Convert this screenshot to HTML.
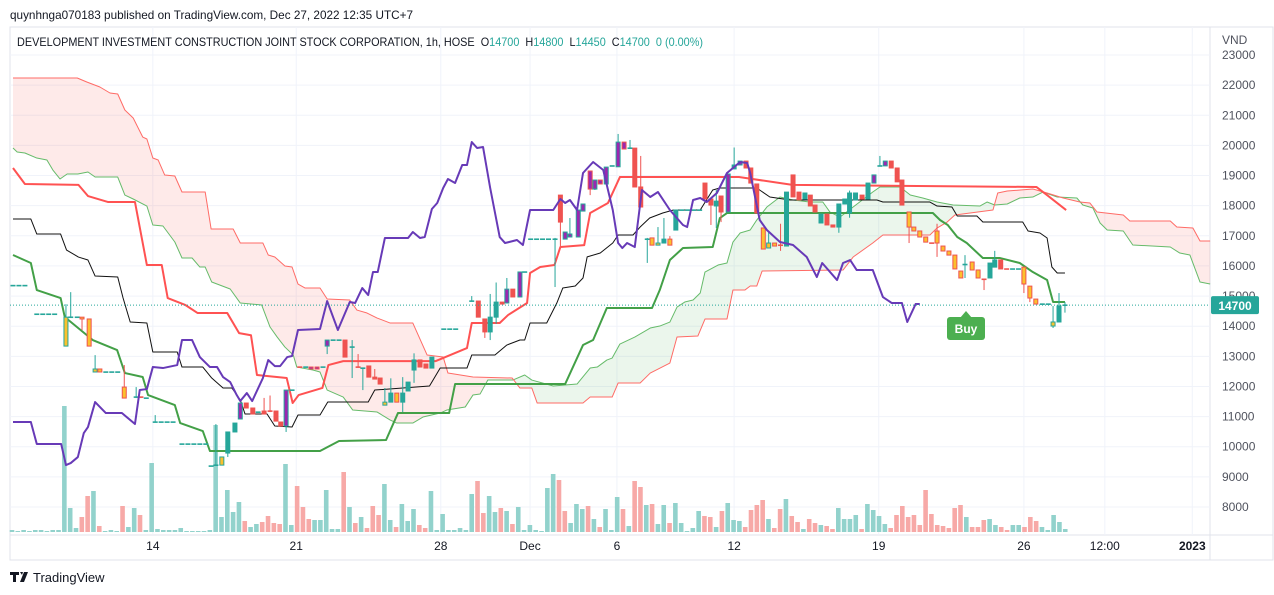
<!DOCTYPE html>
<html><head><meta charset="utf-8"><style>
body{margin:0;background:#fff;width:1274px;height:595px;overflow:hidden;font-family:"Liberation Sans",sans-serif;}
svg{position:absolute;left:0;top:0}
text{font-family:"Liberation Sans",sans-serif}
</style></head><body>
<svg id="chart" width="1274" height="595"></svg>
<script>
const priceTicks=[8000,9000,10000,11000,12000,13000,14000,15000,16000,17000,18000,19000,20000,21000,22000,23000];
const timeTickLabels=["14","21","28","Dec","6","12","19","26","12:00","2023"];
const timeTickT=[23.5,47.6,71.9,86.9,101.5,121.2,145.5,169.9,183.5,198.2];
const kijun=[[0,19250],[2,18720],[11,18690],[12.6,18320],[16,18120],[20.5,18120],[22.5,16030],[25,16030],[26,14935],[29,14700],[31,14440],[36,14440],[38,13770],[40,13700],[41,12380],[46,12280],[47,11450],[48,11715],[52,11950],[53,12710],[55.5,12840],[71,12840],[76.3,13275],[77.1,14105],[81.8,14105],[83.2,14370],[86.4,14769],[86.9,15765],[88.6,15964],[91,16030],[92,16630],[96,16690],[97,17756],[100,18090],[102,18950],[122,18950],[131,18690],[172,18620],[174,18320],[177,17855]];
const tenkan=[[0,17557],[3,17557],[4,17059],[8,17059],[9,16528],[11,16295],[12.6,16196],[13.8,15665],[17.6,15632],[18.5,14935],[19.7,14138],[22.5,14105],[23.5,13143],[27.6,13143],[28.4,12644],[31.9,12644],[33.4,12280],[35.3,11948],[36.8,11948],[38.2,11550],[39,11085],[42.7,11085],[44,10687],[46.9,10654],[47.9,11052],[51.6,11052],[52.9,11483],[59.7,11483],[60.8,11881],[70,12014],[71.8,12611],[76.3,12611],[77.1,13043],[81,13043],[83,13375],[85.2,13541],[86,13541],[86.9,14105],[89.7,14105],[91.4,14769],[92.4,15266],[94.5,15333],[95.8,15599],[96.5,16300],[98.7,16428],[100.8,16760],[101.7,17026],[104.2,17026],[105.4,17291],[107,17590],[109.2,17756],[111,17855],[115.5,17855],[117.6,18520],[118.8,18586],[125,18586],[127.2,18287],[130.6,18188],[145.2,18188],[146.2,18121],[154.1,18121],[155.3,17988],[157.8,17955],[158.7,17656],[162,17656],[163,17457],[169.7,17457],[170.6,17158],[172.6,17092],[173.8,16926],[174.6,15964],[175.5,15765],[176.8,15765]];
const baseGreen=[[0,16362],[3,16097],[4,15200],[8,14935],[8.7,14304],[13.4,13541],[17.5,13209],[18.8,12446],[21.8,12313],[22.7,11715],[27.2,11383],[28.1,10786],[31.9,10520],[33.1,9857],[51.6,9857],[54.8,10190],[62.7,10223],[64.7,11118],[73.3,11118],[74.3,12081],[92.8,12081],[95.8,13375],[97.5,13541],[99.8,14603],[107.4,14603],[108.7,15200],[110.4,16196],[112.6,16594],[117.6,16628],[118.8,17590],[120,17756],[154.6,17756],[155.8,17524],[157.1,17358],[158.7,16960],[160.3,16760],[163,16262],[165.9,16262],[169.2,16097],[171.4,15798],[173.8,15533],[174.8,14802],[176.8,14802]];
const lagging=[[0,10819],[3,10819],[4,10089],[8.1,10089],[8.9,9392],[9.7,9458],[10.9,9657],[11.9,10454],[12.6,10653],[13.8,11483],[15.6,11118],[18.3,11118],[20.5,10753],[21.3,11881],[22.5,11914],[23.5,12644],[25.2,12611],[27.6,12710],[28.4,13541],[30.1,13541],[31.4,12976],[33.1,12644],[34.3,12644],[35.3,12313],[36.5,12147],[37.6,11715],[38.2,11516],[39.3,11781],[40.2,11516],[42,12280],[42.9,12877],[44,12677],[44.9,12677],[46.1,12976],[46.9,13010],[47.9,13873],[51.6,13906],[52.8,14835],[54.6,13873],[56.6,14802],[57.5,14769],[58.7,15266],[59.7,15034],[60.5,15797],[61.3,15797],[62.5,16926],[66.4,16926],[67.2,17125],[68.4,16926],[69.2,16959],[70.4,17889],[71.3,18088],[72.3,18586],[73.1,18884],[74.3,18752],[75.5,19349],[76.3,19349],[77.1,20112],[78,19913],[79,19946],[80.2,18586],[81.8,16959],[82.7,16760],[84.7,16860],[85.7,16694],[86.9,17856],[90.8,17856],[92,18221],[92.8,18088],[93.6,18188],[94.8,17856],[95.8,19084],[97.5,19449],[99.2,19183],[100.8,17856],[101.7,16760],[102.4,16594],[103.2,16760],[104.5,16627],[105.7,18520],[107.1,18287],[108.4,18453],[110.4,17856],[112.6,17358],[113.3,17291],[114.3,18188],[115.5,18254],[116.6,18121],[118.3,18420],[120,19084],[122.2,19449],[123.4,19415],[123.9,19084],[125.5,17524],[126.7,17192],[128.9,16793],[131.1,16694],[133.4,16296],[135.1,15632],[136,16097],[138.5,15532],[139.5,16097],[140.7,16196],[141.8,15864],[144.5,15864],[146.2,14968],[147.7,14769],[149.4,14769],[150.3,14139],[151.7,14736],[152.4,14736]];
const spanA=[[0,19913],[0.7,19781],[2,19747],[4,19581],[5.7,19515],[6.7,19183],[7.9,18885],[9.1,19050],[10.9,19050],[12.6,19117],[13.8,18951],[17.6,18951],[18.8,18353],[20.2,18221],[22.5,17988],[23.5,17358],[25.2,17325],[27.2,16794],[28.4,16263],[30.1,16263],[31.4,15964],[32.3,15964],[33.4,15466],[36.5,15234],[38.2,14769],[41.8,14703],[43.2,13973],[44.4,13640],[45.7,13308],[47.1,13043],[47.7,12644],[50.4,12545],[51.6,12479],[52.8,11881],[55.5,11649],[57.1,11218],[61.2,11151],[63.4,10886],[64.5,10786],[67.2,10786],[68.9,10985],[71.8,11118],[72.9,11218],[76,11317],[77.3,11715],[78.5,11748],[79.8,12213],[84,12213],[86,12380],[87.2,12213],[90.8,12014],[94.8,12081],[97,12611],[98.2,12644],[99.8,12877],[100.7,12943],[102,13408],[104.5,13640],[107.1,13939],[108.7,14005],[110.4,14138],[111.6,14636],[112.9,14802],[114.3,14868],[115.5,15101],[116.3,15798],[118.5,16030],[120,16096],[121,16794],[122.2,17092],[123.9,17192],[125,17524],[126.7,17955],[128.9,18287],[131.1,18188],[133.9,18121],[136.1,18121],[137.3,17789],[139,17623],[141.2,17955],[144.5,18453],[145.7,18619],[149.1,18619],[150.8,18353],[152.9,18254],[155.3,18121],[158,18022],[162.5,17988],[163.7,18121],[165,18022],[167.1,18055],[169.2,18254],[171.4,18287],[173.1,18453],[175.5,18287],[178.8,18254],[179.8,18022],[181.5,17922],[182.7,17424],[183.9,17192],[186.6,17159],[188.2,16694],[194.5,16628],[196.1,16428],[197.8,16362],[199.5,15466],[201.2,15399]];
const spanB=[[0,22237],[10.8,22237],[12.4,22104],[14.6,21938],[16.3,21739],[17.6,21706],[18.8,21175],[20.2,20909],[21.8,20278],[22.5,20212],[23.5,19581],[24.4,19515],[25.5,19017],[27.2,18984],[28.4,18453],[32.3,18453],[33.3,17225],[37,17225],[38.2,16760],[42,16760],[42.9,16362],[44,16296],[45.7,15997],[46.9,15964],[47.9,15399],[49.1,15267],[51.6,15267],[52.8,14902],[56.6,14868],[57.8,14536],[59.5,14437],[61.2,14271],[63.4,14105],[67.2,14105],[69.6,13043],[72.3,12976],[73.1,12445],[77.3,12313],[83.9,12280],[85.2,11948],[87.2,11948],[88.1,11450],[95.8,11450],[97,11649],[100.7,11649],[101.7,12114],[105.4,12114],[107.1,12445],[110.4,12777],[111.6,13640],[115.1,13673],[116.3,14238],[120,14238],[121,15200],[123,15200],[123.9,15333],[125,15333],[125.9,15831],[139.5,15864],[141.2,16296],[144.5,16760],[146.2,17026],[154.1,17026],[155.3,17258],[157,17457],[158.3,17689],[164.7,17855],[165.5,18420],[167.1,18486],[171.4,18553],[173.8,18420],[176.5,18254],[179.3,18121],[181,18088],[182.2,17789],[186.6,17689],[187.7,17490],[194.5,17490],[195.6,17291],[198.3,17258],[199.5,16827],[201.2,16827]];
const candles=[
[0,15350,15350,15350,15350,'u'],[1,15350,15350,15350,15350,'u'],[2,15350,15350,15350,15350,'u'],
[4,14400,14400,14400,14400,'u'],[5,14400,14400,14400,14400,'u'],[6,14400,14400,14400,14400,'u'],[7,14400,14400,14400,14400,'u'],
[8.9,13340,14730,13340,14300,'yu'],[9.7,14300,15130,14300,14300,'u'],[10.8,14300,14300,14300,14300,'u'],
[11.6,14300,14300,13870,14240,'yd'],[12.8,14240,14240,13340,13340,'yd'],[13.8,12480,13040,12480,12580,'yu'],
[14.6,12580,12580,12480,12480,'yd'],[15.6,12480,12480,12480,12480,'u'],[16.6,12480,12480,12480,12480,'u'],[17.6,12480,12480,12480,12480,'u'],
[18.7,11980,12710,11615,11615,'yd'],[20.7,11615,11980,11615,11650,'yu'],[21.5,11650,11650,11615,11615,'yd'],[22.4,11615,11615,11615,11615,'u'],
[23.9,10820,11050,10820,10820,'u'],[24.9,10820,10820,10820,10820,'u'],[25.9,10820,10820,10820,10820,'u'],[26.9,10820,10820,10820,10820,'u'],
[28.4,10090,10090,10090,10090,'u'],[29.4,10090,10090,10090,10090,'u'],[30.4,10090,10090,10090,10090,'u'],[31.4,10090,10090,10090,10090,'u'],[32.4,10090,10090,10090,10090,'u'],
[33.3,9360,9360,9360,9360,'u'],[34.1,9390,10750,9390,9390,'u'],[35.1,9390,9660,9390,9660,'yu'],[36.1,9790,10490,9660,10490,'u'],[37.3,10490,10785,10490,10785,'u'],
[38.2,10920,11450,10920,11450,'pu'],[39.2,11450,11450,11285,11285,'d'],[40.3,11285,11285,11085,11085,'d'],[41.2,11150,11150,11150,11150,'u'],
[42.2,11185,11620,11085,11085,'d'],[43.2,11185,11700,11150,11150,'d'],[44.2,11185,11185,10850,10850,'d'],[45,10820,10820,10685,10685,'d'],
[45.9,10685,11880,10490,11880,'pu'],[46.9,11880,11880,11880,11880,'u'],[48.2,12645,12645,12645,12645,'d'],[49.2,12645,12645,12645,12645,'u'],
[50.1,12645,12645,12580,12580,'pd'],[51.1,12645,12645,12580,12580,'pd'],[52.1,12645,12645,12645,12645,'u'],[52.8,13340,13540,13075,13540,'pu'],
[53.8,13540,13540,13540,13540,'u'],[54.8,13540,13540,13540,13540,'u'],[55.8,13540,13540,12975,12975,'d'],[57,13310,13540,12280,13310,'u'],
[58,12645,13075,12645,12645,'d'],[58.8,12610,12610,11880,12610,'u'],[59.8,12680,12680,12310,12310,'d'],[60.8,12310,12580,12245,12245,'d'],
[61.7,12280,12280,12080,12080,'d'],[62.5,11380,11950,11380,11480,'yu'],[63.5,11480,12270,11480,11780,'u'],[64.5,11780,11780,11480,11480,'yd'],
[65.5,11480,12310,11150,11780,'u'],[66.4,11850,12145,11850,12145,'u'],[67.4,12545,13100,12120,12880,'u'],[68.4,12880,12880,12645,12645,'d'],
[69.4,12745,12745,12610,12610,'d'],[70.4,12610,12975,12610,12975,'u'],[72.4,13905,13905,13905,13905,'u'],[73.4,13905,13905,13905,13905,'u'],[74.4,13905,13905,13905,13905,'u'],
[77.1,14835,15000,14835,14835,'u'],[78.2,14835,14835,14300,14300,'d'],[79.3,14240,14240,13610,13810,'d'],[80.2,13810,15070,13540,14300,'u'],
[81.2,14300,15450,14080,14800,'u'],[82.2,14800,14800,14735,14735,'d'],[83,14770,15600,14770,15230,'pu'],[84,15230,15230,14970,14970,'d'],
[85.2,14970,15800,14970,15800,'pu'],[86,15800,15800,15800,15800,'u'],[87,16890,16890,16890,16890,'u'],[88,16890,16890,16890,16890,'u'],[89,16890,16890,16890,16890,'u'],[90,16890,16890,16890,16890,'u'],
[91.1,16890,16930,15300,16890,'u'],[92,18350,18350,16660,17455,'d'],[92.8,16890,17125,16890,17125,'pu'],[93.6,16960,17590,16960,17060,'pu'],
[95,16960,17855,16960,17855,'pu'],[95.8,17820,18055,17820,18055,'pu'],[97,19150,19150,18350,18550,'pd'],[97.8,18550,18850,18520,18850,'pu'],
[98.7,18850,18850,18720,18720,'pd'],[99.7,18720,19280,18720,19280,'pu'],[100.7,19320,19320,19320,19320,'u'],[101.7,19290,20380,19290,20110,'pu'],
[102.7,20110,20110,19880,19880,'pd'],[103.7,19910,20180,19910,19910,'u'],[104.5,19910,19910,18620,18620,'d'],[105.5,18620,19650,17955,17955,'d'],
[106.6,16890,16930,16100,16890,'u'],[107.4,16930,16930,16690,16690,'yd'],[108.4,16690,17290,16690,16760,'yu'],[109.4,16760,17590,16760,16890,'u'],
[110.4,16890,16990,16690,16690,'yd'],[111.4,17190,17855,17190,17855,'u'],[112.4,17855,17855,17855,17855,'u'],[113.4,17855,17855,17855,17855,'u'],[114.4,17855,17855,17855,17855,'u'],[115.4,17855,17855,17855,17855,'u'],
[116.3,18750,18750,18220,18220,'d'],[117.3,18220,18220,17360,18020,'d'],[118.2,17990,18520,17260,18150,'u'],[119,18320,18320,17455,17790,'d'],
[120.2,17790,19050,17790,19050,'pu'],[121.2,19220,19930,19220,19350,'u'],[122.2,19350,19480,19350,19480,'pu'],[123.2,19480,19480,19250,19250,'d'],
[124,19250,19250,18750,18750,'d'],[125,18720,18720,17755,17755,'d'],[126.1,17260,17260,16560,16560,'yd'],[127,16595,17125,16595,16760,'yu'],
[128,16760,16760,16660,16660,'yd'],[129,16690,17400,16500,16690,'d'],[130,16660,18450,16660,18450,'u'],[131.1,19020,19020,18290,18290,'d'],
[132.1,18450,18450,18190,18190,'d'],[133.1,18220,18420,18220,18420,'u'],[134,18350,18350,17990,17990,'d'],[134.8,18020,18020,17790,17790,'d'],
[135.8,17425,17720,17425,17720,'u'],[136.8,17720,17720,17360,17360,'d'],[137.8,17360,17360,17290,17290,'d'],[138.8,17290,18055,17100,18055,'u'],
[139.8,18055,18220,18055,18220,'u'],[140.6,17755,18500,17600,18420,'u'],[141.6,18190,18420,18190,18420,'u'],[142.7,18350,18350,18220,18220,'d'],
[143.7,18220,18750,18220,18750,'u'],[144.7,18750,19020,18750,19020,'pu'],[145.7,19320,19650,19320,19320,'u'],[146.6,19320,19480,19320,19480,'pu'],
[147.6,19480,19480,19250,19250,'d'],[148.6,19250,19250,18790,18790,'d'],[149.4,18850,18850,18020,18020,'d'],[150.6,17790,17790,16760,17290,'yd'],
[151.4,17290,17290,17160,17160,'yd'],[152.4,17160,17160,16960,16960,'yd'],[153.4,16960,16960,16790,16790,'yd'],[154.4,16760,16760,16760,16760,'d'],
[155.3,17160,17400,16300,16760,'yd'],[156.3,16660,16660,16495,16495,'yd'],[157.3,16495,16495,16360,16360,'yd'],[158.3,16360,16360,15900,15900,'yd'],
[159.3,15830,15830,15600,15600,'yd'],[160,16050,16360,15600,16050,'u'],[161.2,16130,16130,15865,15865,'yd'],[162.2,15865,15865,15600,15600,'yd'],
[163.2,15560,15560,15200,15560,'d'],[164.2,15600,16095,15600,16095,'u'],[165,15960,16500,15960,16200,'u'],[166,16200,16200,15900,15900,'d'],
[167,15900,15900,15900,15900,'d'],[168,15900,15900,15900,15900,'u'],[169,15900,15900,15900,15900,'u'],[169.9,15960,15960,15100,15400,'yd'],
[170.9,15330,15330,14800,14935,'yd'],[171.9,14900,14900,14735,14735,'yd'],[173,14735,14735,14735,14735,'u'],[174,14735,14735,14735,14735,'u'],
[174.8,14005,14670,13940,14140,'yu'],[175.8,14140,15100,14140,14670,'u'],[176.8,14700,14800,14450,14700,'u']];
const volumes=[2,1,2,1,2,2,1,2,2,126,24,4,15,36,41,6,1,2,1,26,5,24,17,2,69,3,2,2,2,4,1,1,1,1,2,107,15,42,20,30,11,5,8,10,16,9,8,68,7,46,25,13,12,12,42,3,3,60,25,9,15,4,26,17,48,12,5,28,11,23,7,4,41,2,18,2,2,4,2,38,51,19,36,20,24,21,8,25,2,7,2,1,44,58,52,21,9,28,23,26,13,5,23,2,35,23,6,51,45,27,28,8,27,9,29,9,1,4,21,16,15,5,21,29,12,11,5,22,27,32,13,4,23,33,16,10,3,13,9,7,6,3,24,13,13,17,3,28,22,16,8,4,17,26,15,17,7,42,18,7,6,4,24,27,15,5,5,12,13,7,5,2,7,7,5,15,11,5,2,17,10,3];
const volDir=("uuuuuuuuuu"+"uudduduuud"+"uuduuuuuuu"+"uuuuuuuuuu"+"duudddduud"+"dduuuuudud"+"uddduuduuu"+"dduuuuuuuu"+"dduududuuu"+"uuuudduuud"+"uduuududdu"+"duuduuuuud"+"duduuudddd"+"uddudduddu"+"dduuuuduuu"+"uddddddddd"+"dddduddduu"+"dduuddduuu"+"uu").split('');
const lastPrice=14700;

const NS="http://www.w3.org/2000/svg";
const svg=document.getElementById('chart');
function xs(t){return 13+t*5.95;}
function ys(p){return 55+(23000-p)*0.030133;}
function yv(v){return 532-v;}
function barTime(j){return j*0.978-0.17;}
function mk(tag,attrs,parent){const e=document.createElementNS(NS,tag);for(const k in attrs)e.setAttribute(k,attrs[k]);(parent||svg).appendChild(e);return e;}
function interp(arr,t){if(t<=arr[0][0])return arr[0][1];for(let i=1;i<arr.length;i++){if(t<=arr[i][0]){const a=arr[i-1],b=arr[i];return a[1]+(b[1]-a[1])*(t-a[0])/(b[0]-a[0]);}}return arr[arr.length-1][1];}

let g=mk('g',{});
mk('rect',{x:10,y:27,width:1263,height:533,fill:'#fff',stroke:'#e0e3eb'},g);
mk('line',{x1:10,y1:535,x2:1273,y2:535,stroke:'#e0e3eb'},g);
mk('line',{x1:1210,y1:27,x2:1210,y2:560,stroke:'#e0e3eb'},g);
const grid=mk('g',{});
priceTicks.forEach(p=>{mk('line',{x1:10,x2:1210,y1:ys(p),y2:ys(p),stroke:'#f0f3fa'},grid);});
timeTickT.forEach(t=>{mk('line',{x1:xs(t),x2:xs(t),y1:27,y2:535,stroke:'#f0f3fa'},grid);});
const pax=mk('g',{});
priceTicks.forEach(p=>{const t=mk('text',{x:1222,y:ys(p)+4,'font-size':12,fill:'#50535e'},pax);t.textContent=String(p);});
const vnd=mk('text',{x:1222,y:44,'font-size':12,fill:'#50535e'},pax);vnd.textContent='VND';

const tax=mk('g',{});
timeTickLabels.forEach((l,i)=>{const t=mk('text',{x:xs(timeTickT[i]),y:550,'font-size':12,fill:'#131722','text-anchor':'middle'},tax);t.textContent=l;if(l==='2023')t.setAttribute('font-weight','bold');});
const vg=mk('g',{});
volumes.forEach((v,j)=>{const r=mk('rect',{x:xs(barTime(j))-2.3,y:yv(v),width:4.6,height:Math.max(0.8,532-yv(v)),fill:volDir[j]==='d'?'#f7a9a7':'#92d2cc'},vg);

});
const cf=mk('g',{});
(function(){const end=spanA[spanA.length-1][0];const step=0.2;let run=[],sign=null;
function flush(){if(run.length<2)return;let d='M'+run.map(r=>xs(r[0])+','+ys(r[1])).join(' L')+' L'+run.slice().reverse().map(r=>xs(r[0])+','+ys(r[2])).join(' L')+' Z';mk('path',{d:d,fill:sign?'rgba(244,67,54,0.11)':'rgba(76,175,80,0.11)',stroke:'none'},cf);}
for(let t=0;t<=end+1e-9;t+=step){const a=interp(spanA,t),b=interp(spanB,t);const s=b>a;if(sign!==null&&s!==sign){run.push([t,a,b]);flush();run=[];}sign=s;run.push([t,a,b]);}flush();})();
function line(arr,color,w,name){const p=mk('polyline',{points:arr.map(d=>xs(d[0])+','+ys(d[1])).join(' '),fill:'none',stroke:color,'stroke-width':w,'stroke-linejoin':'round'});return p;}
line(spanA,'#66bb6a',1,'leading-span-a');
line(spanB,'#ff6b66',1,'leading-span-b');
line(tenkan,'#111111',1,'conversion-line');
line(baseGreen,'#43a047',2,'base-line-green');
line(kijun,'#ff5252',2,'base-line-red');
const cg=mk('g',{});
candles.forEach(c=>{const [t,o,h,l,cl,s]=c;const x=xs(t);const up=s.indexOf('u')>=0;const bc=up?'#26a69a':'#ef5350';
let fill=bc;if(s[0]==='y')fill='#fbc02d';if(s[0]==='p')fill='#9c27b0';
const cgi=mk('g',{},cg);
mk('line',{x1:x,x2:x,y1:ys(h),y2:ys(l),stroke:bc,'stroke-width':1},cgi);
const top=ys(Math.max(o,cl)),bot=ys(Math.min(o,cl));
if(bot-top<1.5){mk('rect',{x:x-2.5,y:top-0.7,width:5,height:1.6,fill:bc},cgi);}
else{mk('rect',{x:x-2,y:top,width:4,height:bot-top,fill:fill,stroke:bc,'stroke-width':1},cgi);}});
line(lagging,'#673ab7',2,'lagging-span');
const lp=mk('line',{x1:10,x2:1210,y1:ys(lastPrice),y2:ys(lastPrice),stroke:'#26a69a','stroke-dasharray':'1 2'});

const lg=mk('g',{});
mk('rect',{x:1211,y:ys(lastPrice)-9,width:48,height:18,rx:2,fill:'#26a69a'},lg);
const lt=mk('text',{x:1235,y:ys(lastPrice)+5,'font-size':12,'font-weight':'bold',fill:'#fff','text-anchor':'middle'},lg);lt.textContent=String(lastPrice);
const bg=mk('g',{});
mk('path',{d:'M960,318 L966,311 L972,318 Z',fill:'#4caf50'},bg);
mk('rect',{x:947,y:317,width:38,height:23,rx:3,fill:'#4caf50'},bg);
const bt=mk('text',{x:966,y:333,'font-size':12,'font-weight':'bold',fill:'#fff','text-anchor':'middle'},bg);bt.textContent='Buy';
const h1=mk('text',{x:10,y:19,'font-size':12,fill:'#131722',textLength:403,lengthAdjust:'spacingAndGlyphs'});h1.textContent='quynhnga070183 published on TradingView.com, Dec 27, 2022 12:35 UTC+7';

const h2=mk('text',{x:17,y:46,'font-size':12,fill:'#131722',textLength:686,lengthAdjust:'spacingAndGlyphs'});

h2.innerHTML='DEVELOPMENT INVESTMENT CONSTRUCTION JOINT STOCK CORPORATION, 1h, HOSE  O<tspan fill="#26a69a">14700</tspan>  H<tspan fill="#26a69a">14800</tspan>  L<tspan fill="#26a69a">14450</tspan>  C<tspan fill="#26a69a">14700</tspan>  <tspan fill="#26a69a">0 (0.00%)</tspan>';
h2.setAttribute('xml:space','preserve');h2.style.whiteSpace='pre';
const fg=mk('g',{});
mk('path',{d:'M10,572 h9 v3 h-3 v7 h-3 v-7 h-3 Z M20,572 h3 l-1,3 Z M24,572 h4 l-4,10 h-4 Z',fill:'#131722'},fg);
const ft=mk('text',{x:33,y:582,'font-size':13,fill:'#131722'},fg);ft.textContent='TradingView';
</script>
</body></html>
